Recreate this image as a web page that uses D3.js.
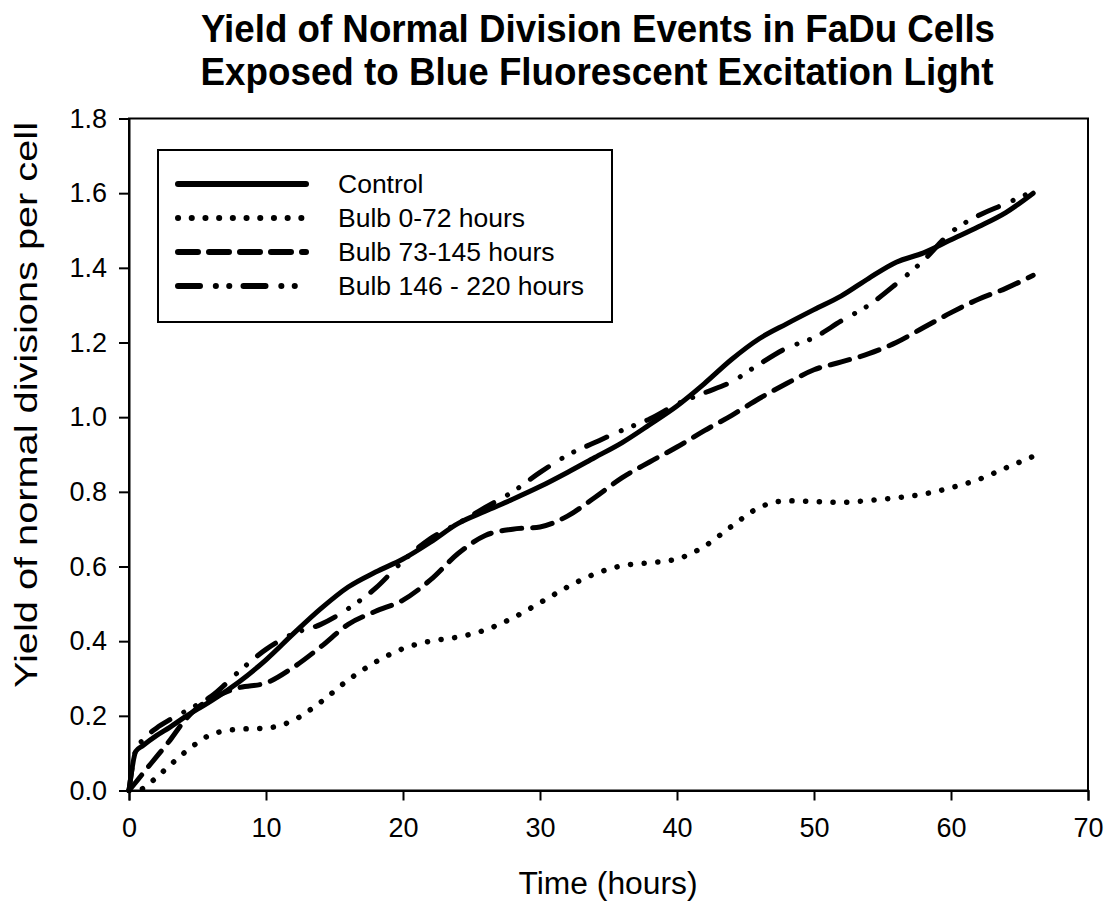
<!DOCTYPE html>
<html>
<head>
<meta charset="utf-8">
<script src="https://cdn.jsdelivr.net/npm/d3@7"></script>
<style>
  body { margin: 0; background: #fff; }
  text { font-family: Arial, "Liberation Sans", sans-serif; fill: #000; }
</style>
</head>
<body>
<svg></svg>
<script>
'use strict';

const width = 1106, height = 903;

// hours after start
const hours = [0, 0.5, 1, 2, 3, 4, 5, 6, 8, 10, 12, 14, 16, 18, 20, 22, 24, 26, 28, 30,
  32, 34, 36, 38, 40, 42, 44, 46, 48, 50, 52, 54, 56, 58, 60, 62, 64, 66];

const control = [0, 0.105, 0.12, 0.147, 0.17, 0.195, 0.218, 0.24, 0.29, 0.35, 0.42, 0.487,
  0.545, 0.585, 0.62, 0.665, 0.715, 0.748, 0.78, 0.814, 0.852, 0.892, 0.932, 0.98, 1.03,
  1.09, 1.155, 1.21, 1.25, 1.288, 1.325, 1.372, 1.415, 1.44, 1.475, 1.51, 1.548, 1.60];

const bulb0to72 = [0, 0, 0.005, 0.035, 0.068, 0.10, 0.128, 0.15, 0.164, 0.167, 0.188, 0.237,
  0.296, 0.344, 0.38, 0.40, 0.411, 0.43, 0.462, 0.503, 0.545, 0.58, 0.602, 0.61, 0.62,
  0.654, 0.708, 0.758, 0.776, 0.774, 0.772, 0.777, 0.784, 0.794, 0.811, 0.833, 0.864, 0.895];

const bulb73to145 = [0, 0.022, 0.045, 0.09, 0.135, 0.185, 0.222, 0.245, 0.275, 0.288, 0.33,
  0.385, 0.445, 0.48, 0.51, 0.564, 0.634, 0.683, 0.70, 0.706, 0.735, 0.785, 0.838, 0.88,
  0.92, 0.964, 1.005, 1.05, 1.09, 1.127, 1.148, 1.17, 1.2, 1.24, 1.28, 1.316, 1.345, 1.38];

const bulb146to220 = [0, 0.11, 0.135, 0.167, 0.19, 0.21, 0.23, 0.252, 0.318, 0.378, 0.42,
  0.445, 0.487, 0.542, 0.615, 0.675, 0.715, 0.758, 0.80, 0.852, 0.898, 0.932, 0.965, 0.995,
  1.035, 1.065, 1.095, 1.142, 1.185, 1.213, 1.258, 1.30, 1.357, 1.42, 1.495, 1.54, 1.572, 1.605];

const seriesNames = ["Control", "Bulb 0-72 hours", "Bulb 73-145 hours", "Bulb 146 - 220 hours"];
const xTicks = [0, 10, 20, 30, 40, 50, 60, 70];
const yTicks = [0, 0.2, 0.4, 0.6, 0.8, 1.0, 1.2, 1.4, 1.6, 1.8];

const dashes = [null, "0.1 13.6", "20 11", "22 15.8 0.1 13.3 0.1 14.2"];

const series = [control, bulb0to72, bulb73to145, bulb146to220].map((vals, i) => ({
  name: seriesNames[i],
  dash: dashes[i],
  points: hours.map((h, j) => [h, vals[j]])
}));

const margin = {top: 118.5, right: 18, bottom: 112.5, left: 129};

let svg = d3.select("svg")
  .attr("width", width)
  .attr("height", height)
  .attr("viewBox", [0, 0, width, height]);

svg.append("rect").attr("width", width).attr("height", height).attr("fill", "#fff");

let x = d3.scaleLinear().domain([0, 70]).range([margin.left, width - margin.right]);
let y = d3.scaleLinear().domain([0, 1.8]).range([height - margin.bottom, margin.top]);

// frame
svg.append("rect")
  .attr("x", x(0)).attr("y", y(1.8))
  .attr("width", x(70) - x(0)).attr("height", y(0) - y(1.8))
  .attr("fill", "none").attr("stroke", "#000").attr("stroke-width", 2);

let xAxis = svg.append("g")
  .attr("transform", `translate(0,${y(0)})`)
  .call(d3.axisBottom(x).tickValues(xTicks).tickSize(10).tickPadding(17));
let yAxis = svg.append("g")
  .attr("transform", `translate(${x(0)},0)`)
  .call(d3.axisLeft(y).tickValues(yTicks).tickFormat(d3.format(".1f")).tickSize(10).tickPadding(12));

[xAxis, yAxis].forEach(a => {
  a.select(".domain").attr("stroke-width", 2);
  a.selectAll(".tick line").attr("stroke-width", 2);
  a.selectAll(".tick text")
    .attr("font-size", 27)
    .attr("font-family", "Arial, 'Liberation Sans', sans-serif");
});

let line = d3.line()
  .x(d => x(d[0]))
  .y(d => y(d[1]))
  .curve(d3.curveMonotoneX);

svg.append("g")
  .attr("fill", "none")
  .attr("stroke", "#000")
  .attr("stroke-linecap", "round")
  .attr("stroke-linejoin", "round")
  .selectAll("path")
  .data(series)
  .join("path")
    .attr("d", d => line(d.points))
    .attr("stroke-width", d => d.dash === "0.1 13.6" ? 5.5 : 5)
    .attr("stroke-dasharray", d => d.dash);

// legend
let legend = svg.append("g");
legend.append("rect")
  .attr("x", 158).attr("y", 150)
  .attr("width", 454).attr("height", 172)
  .attr("fill", "#fff").attr("stroke", "#000").attr("stroke-width", 2);

let item = legend.selectAll("g")
  .data(series)
  .join("g")
    .attr("transform", (d, i) => `translate(0,${184 + i * 34})`);

item.append("line")
  .attr("x1", 178).attr("x2", 306)
  .attr("stroke", "#000")
  .attr("stroke-width", 6)
  .attr("stroke-linecap", "round")
  .attr("stroke-dasharray", d => d.dash);

item.append("text")
  .attr("x", 338).attr("y", 9)
  .attr("font-size", 26.5)
  .text(d => d.name);

// titles
svg.append("text")
  .attr("x", 598).attr("y", 42)
  .attr("text-anchor", "middle")
  .attr("font-size", 38).attr("font-weight", "bold")
  .attr("textLength", 794).attr("lengthAdjust", "spacingAndGlyphs")
  .text("Yield of Normal Division Events in FaDu Cells");
svg.append("text")
  .attr("x", 597).attr("y", 85)
  .attr("text-anchor", "middle")
  .attr("font-size", 38).attr("font-weight", "bold")
  .attr("textLength", 793).attr("lengthAdjust", "spacingAndGlyphs")
  .text("Exposed to Blue Fluorescent Excitation Light");

svg.append("text")
  .attr("x", 608).attr("y", 894)
  .attr("text-anchor", "middle")
  .attr("font-size", 31)
  .attr("textLength", 179).attr("lengthAdjust", "spacingAndGlyphs")
  .text("Time (hours)");

svg.append("text")
  .attr("transform", "translate(37,405) rotate(-90)")
  .attr("text-anchor", "middle")
  .attr("font-size", 31)
  .attr("textLength", 566).attr("lengthAdjust", "spacingAndGlyphs")
  .text("Yield of normal divisions per cell");
</script>
</body>
</html>
